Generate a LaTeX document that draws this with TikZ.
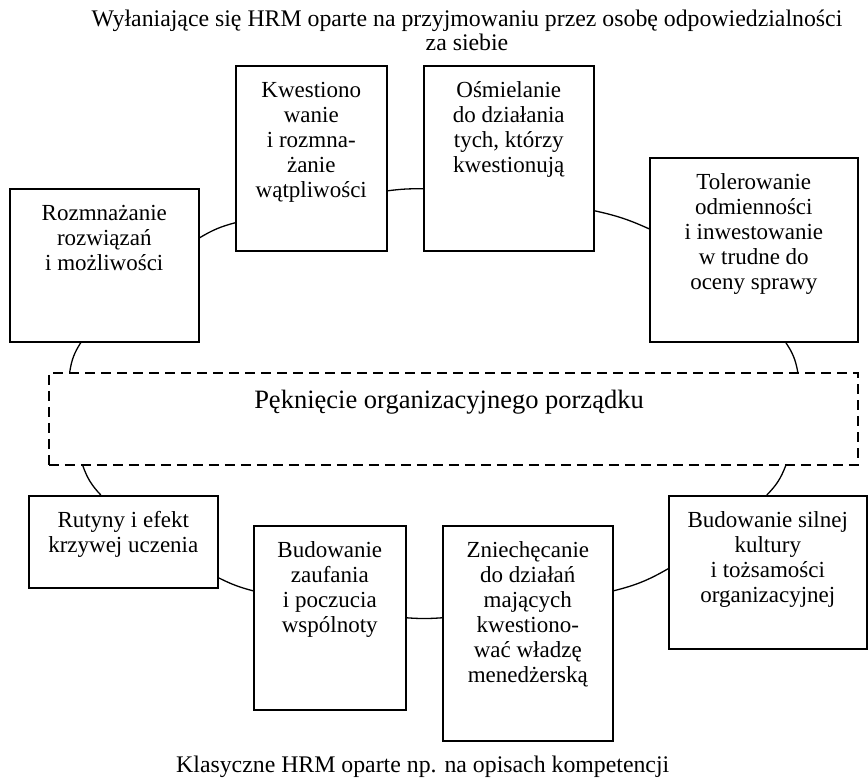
\documentclass[tikz,border=0pt]{standalone}
\usepackage{fontspec}
\setmainfont{Liberation Serif}
\usetikzlibrary{positioning}
\begin{document}
\begin{tikzpicture}[x=1pt,y=-1pt,
  box/.style={draw,line width=1.6pt,anchor=north west,inner sep=0pt},
  txt/.style={inner sep=0pt,align=center,font=\fontsize{23}{25}\selectfont},
  link/.style={line width=1.3pt}]
 \useasboundingbox (0,0) rectangle (868,778);
 % titles
 \node[txt,font=\fontsize{23.8}{24.5}\selectfont,anchor=north] (emerg) at (467,8.8) {\strut Wyłaniające się HRM oparte na przyjmowaniu przez osobę odpowiedzialności\\za siebie};
 \node[txt,font=\fontsize{23.8}{25}\selectfont,anchor=base west] (classic) at (176,772) {Klasyczne HRM oparte np. na opisach kompetencji};
 % upper boxes
 \node[box,minimum width=189pt,minimum height=153pt] (rozm) at (9,188) {};
 \node[box,minimum width=151pt,minimum height=185pt] (kwest) at (235,65) {};
 \node[box,minimum width=170pt,minimum height=185pt] (osmiel) at (423,65) {};
 \node[box,minimum width=208pt,minimum height=184pt] (toler) at (649,157) {};
 \node[txt,below=15pt of rozm.north] (rozmt) {\strut Rozmnażanie\\rozwiązań\\i możliwości};
 \node[txt,below=15pt of kwest.north] (kwestt) {\strut Kwestiono\\wanie\\i rozmna-\\żanie\\wątpliwości};
 \node[txt,below=15pt of osmiel.north] (osmielt) {\strut Ośmielanie\\do działania\\tych, którzy\\kwestionują};
 \node[txt,below=15pt of toler.north] (tolert) {\strut Tolerowanie\\odmienności\\i inwestowanie\\w trudne do\\oceny sprawy};
 % the crack
 \node[box,dash pattern=on 10pt off 6pt,line width=1.5pt,minimum width=809pt,minimum height=92pt] (crack) at (48,372) {};
 \node[txt,font=\fontsize{26.5}{28}\selectfont,anchor=base] (crackt) at (449,408) {Pęknięcie organizacyjnego porządku};
 % lower boxes
 \node[box,minimum width=189pt,minimum height=92pt] (rutyny) at (28,495) {};
 \node[box,minimum width=152pt,minimum height=184pt] (zaufan) at (253,525) {};
 \node[box,minimum width=170pt,minimum height=215pt] (zniech) at (442,525) {};
 \node[box,minimum width=198pt,minimum height=153pt] (kultura) at (668,495) {};
 \node[txt,below=15pt of rutyny.north] (rutynyt) {\strut Rutyny i efekt\\krzywej uczenia};
 \node[txt,below=15pt of zaufan.north] (zaufant) {\strut Budowanie\\zaufania\\i poczucia\\wspólnoty};
 \node[txt,below=15pt of zniech.north] (zniecht) {\strut Zniechęcanie\\do działań\\mających\\kwestiono-\\wać władzę\\menedżerską};
 \node[txt,below=15pt of kultura.north] (kulturat) {\strut Budowanie silnej\\kultury\\i tożsamości\\organizacyjnej};
 % circle pieces
 \draw[link] ([yshift=27.5pt]rozm.east) to[bend left=8] ([yshift=-64.5pt]kwest.west);
 \draw[link] ([yshift=-32.5pt]kwest.east) to[bend left=4] ([yshift=-30.5pt]osmiel.west);
 \draw[link] ([yshift=-52.5pt]osmiel.east) to[bend left=6] ([yshift=21pt]toler.west);
 \draw[link] ([xshift=32pt]toler.south) to[bend left=12] ([xshift=344.5pt]crack.north);
 \draw[link] ([xshift=-23.5pt]rozm.south) to[bend right=12] ([xshift=-383.5pt]crack.north);
 \draw[link] ([xshift=-370.5pt]crack.south) to[bend right=12] ([xshift=-22.5pt]rutyny.north);
 \draw[link] ([yshift=-36pt]rutyny.east) to[bend right=6] ([yshift=27pt]zaufan.west);
 \draw[link] (zaufan.east) to[bend right=4] ([yshift=15.5pt]zniech.west);
 \draw[link] ([yshift=42.5pt]zniech.east) to[bend right=8] ([yshift=3.5pt]kultura.west);
 \draw[link] ([xshift=332.5pt]crack.south) to[bend left=12] ([xshift=-1pt]kultura.north);
\end{tikzpicture}
\end{document}
